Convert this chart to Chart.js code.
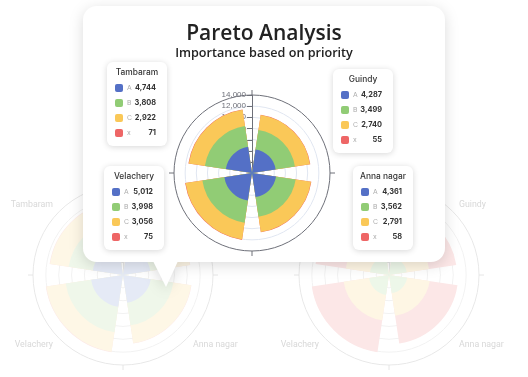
<!DOCTYPE html>
<html>
<head>
<meta charset="utf-8">
<script src="https://cdn.jsdelivr.net/npm/chart.js@4.4.1/dist/chart.umd.min.js"></script>
<style>
  html, body { margin: 0; padding: 0; background: #fff; width: 528px; height: 377px; overflow: hidden; }
  body { position: relative; font-family: "Inter", "Open Sans", sans-serif; }
  canvas { position: absolute; }
  #bgLeft  { left: -7px;  top: 145px; }
  #bgRight { left: 259px; top: 145px; }
  #shadowWrap { position: absolute; left: 0; top: 0; width: 528px; height: 377px;
                filter: drop-shadow(0 3px 7px rgba(0,0,0,0.14)); }
  #card { position: absolute; left: 83px; top: 6px; width: 362px; height: 256px;
          background: #fff; border-radius: 14px; }
  #pointer { position: absolute; left: 153px; top: 261px; width: 25px; height: 26px; background: #fff;
             clip-path: polygon(0 0, 100% 0, 52% 100%); }
  #mainChart { left: 162px; top: 83px; }
  .title { position: absolute; left: 83px; width: 362px; text-align: center; color: #222;
           font-family: "Open Sans", sans-serif; }
  #t1 { top: 19px; font-size: 21px; line-height: 26px; font-weight: 600; }
  #t2 { top: 45px; font-size: 12.6px; line-height: 16px; font-weight: 600; }
  .tip { position: absolute; width: 60px; height: 84px; background: #fff; border-radius: 6px;
         box-shadow: 0 1px 6px rgba(0,0,0,0.16); }
  .tip .name { position: absolute; left: 0; top: 4px; width: 60px; text-align: center;
               font-size: 8.4px; line-height: 12px; color: #333; font-weight: 500; }
  .tip .row { position: absolute; left: 0; width: 60px; height: 10px; }
  .tip .sw { position: absolute; left: 8px; top: 1px; width: 8px; height: 8px; border-radius: 2px; }
  .tip .lt { position: absolute; left: 20px; top: 0; font-size: 6.8px; line-height: 10px; color: #aaa; }
  .tip .val { position: absolute; right: 11px; top: 0; font-size: 7.4px; line-height: 10px; color: #333; font-weight: 700; }
</style>
</head>
<body>
<canvas id="bgLeft" width="260" height="260"></canvas>
<canvas id="bgRight" width="260" height="260"></canvas>
<div id="shadowWrap">
  <div id="card"></div>
  <div id="pointer"></div>
</div>
<div class="title" id="t1">Pareto Analysis</div>
<div class="title" id="t2">Importance based on priority</div>
<canvas id="mainChart" width="180" height="180"></canvas>
<div id="tips"></div>

<script>
// --- Data (clockwise from 12 o'clock) ---
const categories = ["Guindy", "Anna nagar", "Velachery", "Tambaram"];
const seriesNames = ["A", "B", "C", "x"];
const seriesA = [4287, 4361, 5012, 4744];
const seriesB = [3499, 3562, 3998, 3808];
const seriesC = [2740, 2791, 3056, 2922];
const seriesX = [55, 58, 75, 71];
const radialMax = 14000;
const radialStep = 2000;

const colors = ["#5470c6", "#91cc75", "#fac858", "#ee6666"];
// solid tint: blend colour with white so overlapping rings don't darken
const tint = (hex, a) => {
  const n = parseInt(hex.slice(1), 16);
  const mix = c => Math.round(255 - (255 - c) * a);
  return `rgb(${mix(n >> 16)},${mix((n >> 8) & 255)},${mix(n & 255)})`;
};

// sector / gap layout in degrees
const BAND = 90, GAP = 17;

// --- Decorations: radius axis, ticks, labels ---
const polarDecor = {
  id: "polarDecor",
  beforeDatasetsDraw(chart, args, o) {
    const r = chart.scales.r, ctx = chart.ctx;
    const cx = r.xCenter, cy = r.yCenter, R = r.drawingArea;
    ctx.save();
    ctx.strokeStyle = o.axisColor;
    ctx.lineWidth = 1;
    ctx.beginPath();
    ctx.moveTo(cx + 0.5, cy);
    ctx.lineTo(cx + 0.5, cy - R);
    r.ticks.forEach(t => {
      const d = r.getDistanceFromCenterForValue(t.value);
      if (d <= 0) return;
      ctx.moveTo(cx - 5, Math.round(cy - d) + 0.5);
      ctx.lineTo(cx, Math.round(cy - d) + 0.5);
    });
    for (let k = 0; k < 4; k++) {
      const a = k * Math.PI / 2 - Math.PI / 2;
      ctx.moveTo(cx + Math.cos(a) * R, cy + Math.sin(a) * R);
      ctx.lineTo(cx + Math.cos(a) * (R + 5), cy + Math.sin(a) * (R + 5));
    }
    ctx.stroke();
    if (o.tickLabels) {
      ctx.fillStyle = o.axisColor;
      ctx.font = "8px 'Liberation Sans', Arial, sans-serif";
      ctx.textAlign = "right";
      ctx.textBaseline = "middle";
      r.ticks.forEach(t => {
        const d = r.getDistanceFromCenterForValue(t.value);
        if (d <= 0) return;
        ctx.fillText(t.label, cx - 6, cy - d);
      });
    }
    ctx.restore();
  },
  afterDatasetsDraw(chart, args, o) {
    if (!o.catLabels) return;
    const r = chart.scales.r, ctx = chart.ctx;
    const meta = chart.getDatasetMeta(chart.data.datasets.length - 1);
    ctx.save();
    ctx.fillStyle = o.catColor;
    ctx.font = "8.8px Roboto, sans-serif";
    ctx.textBaseline = "middle";
    chart.data.labels.forEach((lab, i) => {
      if (!lab) return;
      const el = meta.data[i];
      const mid = (el.startAngle + el.endAngle) / 2;
      const rr = r.drawingArea + o.catPad;
      ctx.textAlign = Math.cos(mid) < 0 ? "right" : "left";
      ctx.fillText(lab, r.xCenter + Math.cos(mid) * rr, r.yCenter + Math.sin(mid) * rr);
    });
    ctx.restore();
  }
};

// labels / angles with gaps between categories
const ringLabels = [""];
const ringAngles = [GAP / 2];
categories.forEach((c, i) => {
  ringLabels.push(c); ringAngles.push(BAND - GAP);
  if (i < categories.length - 1) { ringLabels.push(""); ringAngles.push(GAP); }
});
const withGaps = vals => {
  const out = [0];
  vals.forEach((v, i) => { out.push(v); if (i < vals.length - 1) out.push(0); });
  return out;
};

// stack series from the centre outwards (cumulative rings, inner ring drawn on top)
function buildDatasets(seriesOrder, cols) {
  let run = categories.map(() => 0);
  return seriesOrder.map((s, k) => {
    run = run.map((v, i) => v + s[i]);
    return {
      data: withGaps(run),
      backgroundColor: cols[k],
      borderWidth: 0,
      angle: ctx => ringAngles[ctx.dataIndex]
    };
  });
}

function makePolar(id, pad, datasets, decor, gridColor, outerColor) {
  return new Chart(document.getElementById(id), {
    type: "polarArea",
    data: { labels: ringLabels, datasets },
    options: {
      responsive: false,
      devicePixelRatio: 1,
      animation: false,
      layout: { padding: pad },
      plugins: { legend: { display: false }, tooltip: { enabled: false }, polarDecor: decor },
      scales: {
        r: {
          min: 0, max: radialMax, startAngle: 0,
          ticks: { display: false, stepSize: radialStep },
          grid: { circular: true, lineWidth: 1,
                  color: ctx => ctx.tick && ctx.tick.value === radialMax ? outerColor : gridColor },
          angleLines: { display: false },
          pointLabels: { display: false }
        }
      }
    },
    plugins: [polarDecor]
  });
}

const stdOrder = [seriesA, seriesB, seriesC, seriesX];
const revOrder = [seriesX, seriesC, seriesB, seriesA];

makePolar("bgLeft", 40, buildDatasets(stdOrder, colors.map(c => tint(c, 0.15))),
  { axisColor: "#e6e6e6", tickLabels: false, catLabels: true, catColor: "#d8d8d8", catPad: 9 },
  "#f2f2f2", "#e8e8e8");
makePolar("bgRight", 40, buildDatasets(revOrder, colors.map(c => tint(c, 0.16))),
  { axisColor: "#e6e6e6", tickLabels: false, catLabels: true, catColor: "#d8d8d8", catPad: 9 },
  "#f2f2f2", "#e8e8e8");
makePolar("mainChart", 12, buildDatasets(stdOrder, colors),
  { axisColor: "#6e7079", tickLabels: true, catLabels: false },
  "#e0e6f1", "#6e7079");

// --- Tooltip cards ---
const tipPos = {
  "Tambaram":   [107, 62],
  "Guindy":     [333, 69],
  "Velachery":  [104, 166],
  "Anna nagar": [353, 166]
};
const tips = document.getElementById("tips");
categories.forEach((c, i) => {
  const vals = [seriesA[i], seriesB[i], seriesC[i], seriesX[i]];
  const [x, y] = tipPos[c];
  tips.insertAdjacentHTML("beforeend", `
    <div class="tip" style="left:${x}px;top:${y}px">
      <div class="name">${c}</div>
      ${vals.map((v, k) => `
        <div class="row" style="top:${21 + k * 15}px">
          <div class="sw" style="background:${colors[k]}"></div>
          <div class="lt">${seriesNames[k]}</div>
          <div class="val">${v.toLocaleString("en-US")}</div>
        </div>`).join("")}
    </div>`);
});
</script>
</body>
</html>
